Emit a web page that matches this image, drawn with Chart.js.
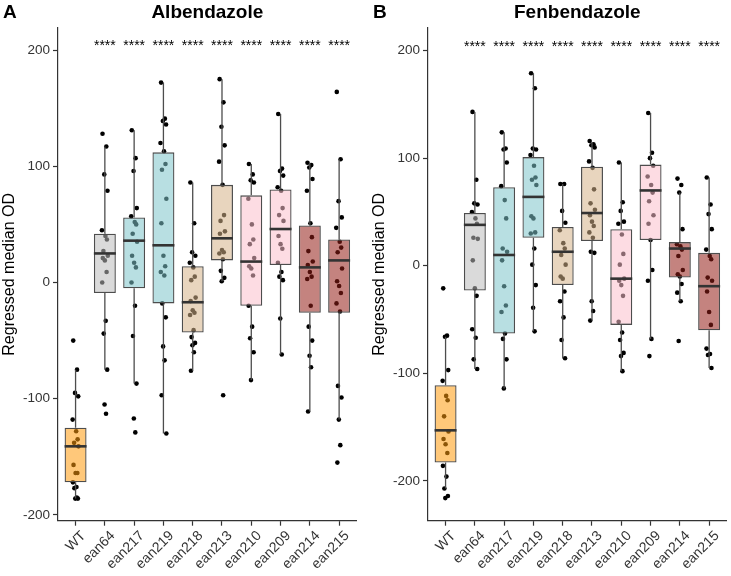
<!DOCTYPE html>
<html>
<head>
<meta charset="utf-8">
<script src="https://cdn.jsdelivr.net/npm/chart.js@4.4.1/dist/chart.umd.min.js"></script>
<style>
  body { margin: 0; background: #fff; }
  #wrap { position: relative; width: 731px; height: 576px; }
  canvas { position: absolute; top: 0; }
  #albCanvas { left: 0; }
  #fenCanvas { left: 370px; }
</style>
</head>
<body>
<div id="wrap">
  <canvas id="albCanvas" width="370" height="576"></canvas>
  <canvas id="fenCanvas" width="361" height="576"></canvas>
</div>
<script>
var strains = ['WT', 'ean64', 'ean217', 'ean219', 'ean218', 'ean213', 'ean210', 'ean209', 'ean214', 'ean215'];
var signif = ['', '****', '****', '****', '****', '****', '****', '****', '****', '****'];
var yTicks = [-200, -100, 0, 100, 200];

// Albendazole box stats
var albQ1 = [-172, -9, -5, -18, -43, 19, -20, 15, -26, -26];
var albMedian = [-141, 25, 36, 32, -17, 38, 18, 46, 13, 19];
var albQ3 = [-125, 42, 56, 112, 14, 84, 75, 80, 49, 37];
var albLow = [-186, -75, -87, -130, -76, 1, -84, -62, -111, -118];
var albHigh = [-75, 117, 131, 172, 86, 175, 102, 145, 103, 106];
var albPoints = [
    [-50, -75, -95, -98, -118, -128, -135, -138, -141, -157, -164, -164, -172, -176, -177, -186, -186, -185],
    [128, 117, 93, 79, 45, 40, 37, 27, 23, 21, 19, 9, 0, -33, -44, -75, -105, -113],
    [131, 107, 96, 64, 57, 52, 50, 42, 35, 23, 17, 13, 0, -20, -46, -87, -117, -129],
    [172, 141, 139, 136, 120, 113, 102, 97, 72, 51, 23, 14, 9, 6, -18, -30, -55, -67, -97, -130],
    [86, 51, 26, 23, 17, 13, 5, 2, -13, -16, -24, -26, -28, -41, -47, -52, -54, -60, -76],
    [175, 155, 134, 118, 104, 84, 58, 53, 44, 42, 28, 26, 25, 20, 10, 4, 1, -97],
    [102, 93, 88, 86, 72, 50, 37, 33, 21, 14, 12, 6, -20, -38, -48, -60, -84],
    [145, 98, 96, 92, 82, 79, 64, 58, 53, 40, 33, 29, 17, 9, 5, 2, -31, -62],
    [103, 101, 99, 89, 79, 51, 39, 27, 18, 15, 9, 5, 3, -20, -38, -50, -63, -73, -111],
    [164, 106, 70, 56, 47, 35, 30, 26, 12, 1, -3, -9, -18, -25, -89, -99, -118, -140, -155]
];

// Fenbendazole box stats
var fenQ1 = [-183, -23, -63, 26, -18, 23, -55, 24, -11, -60];
var fenMedian = [-153, 38, 10, 64, 13, 49, -12, 70, 16, -19];
var fenQ3 = [-111, 49, 73, 101, 36, 92, 34, 94, 22, 12];
var fenLow = [-207, -96, -114, -61, -86, -51, -98, -68, -33, -95];
var fenHigh = [-66, 143, 124, 179, 76, 115, 96, 142, 68, 82];
var fenPoints = [
    [-21, -65, -66, -97, -107, -121, -125, -140, -154, -161, -166, -174, -186, -196, -207, -214, -216],
    [143, 80, 58, 57, 50, 44, 39, 26, 25, 5, -21, -28, -59, -67, -87, -96],
    [124, 109, 108, 96, 74, 61, 44, 16, 13, 5, -19, -37, -43, -63, -68, -87, -114],
    [179, 165, 109, 108, 103, 93, 82, 80, 75, 46, 44, 31, 30, 16, 1, -18, -39, -61],
    [76, 76, 51, 40, 33, 21, 16, 10, 1, -10, -12, -24, -33, -48, -69, -86],
    [116, 113, 112, 110, 97, 91, 71, 58, 52, 47, 41, 37, 31, 26, 13, 12, -33, -42, -51],
    [96, 59, 51, 41, 39, 29, 11, 1, -12, -14, -18, -28, -52, -62, -69, -81, -84, -98],
    [142, 105, 100, 93, 83, 75, 68, 60, 47, 39, 24, -4, -14, -68, -84],
    [81, 75, 68, 34, 20, 18, 15, 9, -4, -8, -10, -17, -25, -33, -70],
    [82, 57, 48, 34, 15, 9, 6, -11, -14, -24, -43, -55, -77, -82, -83, -95]
];

var boxFills = [
    'rgba(255,155,13,0.55)', 'rgba(188,188,188,0.55)',
    'rgba(126,197,202,0.55)', 'rgba(126,197,202,0.55)',
    'rgba(213,179,137,0.55)', 'rgba(213,179,137,0.55)',
    'rgba(251,191,204,0.55)', 'rgba(251,191,204,0.55)',
    'rgba(148,30,22,0.55)', 'rgba(148,30,22,0.55)'
];

// fixed horizontal jitter pattern (category units)
var JITTER = [-0.08, 0.05, -0.02, 0.09, -0.1, 0.02, 0.07, -0.05, 0.1, -0.07, 0.0, 0.06, -0.09, 0.03, -0.04, 0.08, -0.01, 0.04, -0.06, 0.1];

var FONT = "'Liberation Sans', Arial, sans-serif";

function pointData(groups) {
    var out = [];
    groups.forEach(function(vals, i) {
        vals.forEach(function(v, j) {
            out.push({ x: i + JITTER[j % JITTER.length], y: v });
        });
    });
    return out;
}

// whiskers, medians, significance stars and panel heading
var boxExtras = {
    id: 'boxExtras',
    afterDatasetsDraw: function(chart) {
        var o = chart.options.plugins.boxExtras;
        var x = chart.scales.x, y = chart.scales.y, ctx = chart.ctx;
        var half = (x.getPixelForValue(1) - x.getPixelForValue(0)) * 0.75 / 2;
        ctx.save();
        o.median.forEach(function(m, i) {
            var px = x.getPixelForValue(i);
            ctx.strokeStyle = '#4d4d4d';
            ctx.lineWidth = 1.3;
            ctx.beginPath();
            ctx.moveTo(px, y.getPixelForValue(o.q3[i]));
            ctx.lineTo(px, y.getPixelForValue(o.high[i]));
            ctx.moveTo(px, y.getPixelForValue(o.q1[i]));
            ctx.lineTo(px, y.getPixelForValue(o.low[i]));
            ctx.stroke();
            ctx.strokeStyle = '#333';
            ctx.lineWidth = 2.6;
            ctx.beginPath();
            ctx.moveTo(px - half, y.getPixelForValue(m));
            ctx.lineTo(px + half, y.getPixelForValue(m));
            ctx.stroke();
            if (signif[i]) {
                ctx.fillStyle = '#000';
                ctx.font = '14px ' + FONT;
                ctx.textAlign = 'center';
                ctx.textBaseline = 'alphabetic';
                ctx.fillText(signif[i], px, y.getPixelForValue(200));
            }
        });
        ctx.restore();
    },
    afterDraw: function(chart) {
        var o = chart.options.plugins.boxExtras;
        var ctx = chart.ctx, area = chart.chartArea;
        ctx.save();
        ctx.fillStyle = '#000';
        ctx.font = 'bold 19px ' + FONT;
        ctx.textBaseline = 'alphabetic';
        ctx.textAlign = 'left';
        ctx.fillText(o.letter, 3, 18);
        ctx.textAlign = 'center';
        ctx.fillText(o.title, (area.left + area.right) / 2, 18);
        ctx.restore();
    }
};

function makeChart(id, letter, title, q1, median, q3, low, high, points, yMin, yMax, padRight) {
    return new Chart(document.getElementById(id), {
        type: 'bar',
        data: {
            datasets: [
                {
                    type: 'scatter',
                    data: pointData(points),
                    pointRadius: 2.3,
                    pointBackgroundColor: '#000',
                    pointBorderWidth: 0,
                    order: 2
                },
                {
                    type: 'bar',
                    data: q1.map(function(v, i) { return { x: i, y: [v, q3[i]] }; }),
                    backgroundColor: boxFills,
                    borderColor: '#4d4d4d',
                    borderWidth: 1.3,
                    borderSkipped: false,
                    categoryPercentage: 1,
                    barPercentage: 0.75,
                    order: 1
                }
            ]
        },
        options: {
            responsive: false,
            devicePixelRatio: 1,
            animation: false,
            layout: { padding: { top: 28, right: padRight, bottom: 0, left: 0 } },
            plugins: {
                legend: { display: false },
                tooltip: { enabled: false },
                boxExtras: { letter: letter, title: title, q1: q1, median: median, q3: q3, low: low, high: high }
            },
            scales: {
                x: {
                    type: 'linear',
                    min: -0.6,
                    max: 9.6,
                    offset: false,
                    afterBuildTicks: function(s) { s.ticks = strains.map(function(_, i) { return { value: i }; }); },
                    afterFit: function(s) { s.height = 55.3; },
                    grid: { offset: false, drawOnChartArea: false, tickLength: 5, tickColor: '#333', tickWidth: 1.2 },
                    border: { color: '#333', width: 1.2 },
                    ticks: {
                        autoSkip: false,
                        minRotation: 45,
                        maxRotation: 45,
                        padding: 2,
                        labelOffset: 8,
                        color: '#333',
                        font: { family: FONT, size: 14 },
                        callback: function(v) { return strains[v]; }
                    }
                },
                y: {
                    min: yMin,
                    max: yMax,
                    afterBuildTicks: function(s) { s.ticks = yTicks.map(function(v) { return { value: v }; }); },
                    afterFit: function(s) { s.width = 58; },
                    grid: { drawOnChartArea: false, tickLength: 5, tickColor: '#333', tickWidth: 1.2 },
                    border: { color: '#333', width: 1.2 },
                    ticks: { padding: 3, color: '#333', font: { family: FONT, size: 13.5 } },
                    title: {
                        display: true,
                        text: 'Regressed median OD',
                        color: '#000',
                        font: { family: FONT, size: 16 },
                        padding: { top: 0, bottom: 0 }
                    }
                }
            }
        },
        plugins: [boxExtras]
    });
}

makeChart('albCanvas', 'A', 'Albendazole', albQ1, albMedian, albQ3, albLow, albHigh, albPoints, -205, 219, 13.3);
makeChart('fenCanvas', 'B', 'Fenbendazole', fenQ1, fenMedian, fenQ3, fenLow, fenHigh, fenPoints, -237, 221, 4.3);
</script>
</body>
</html>
